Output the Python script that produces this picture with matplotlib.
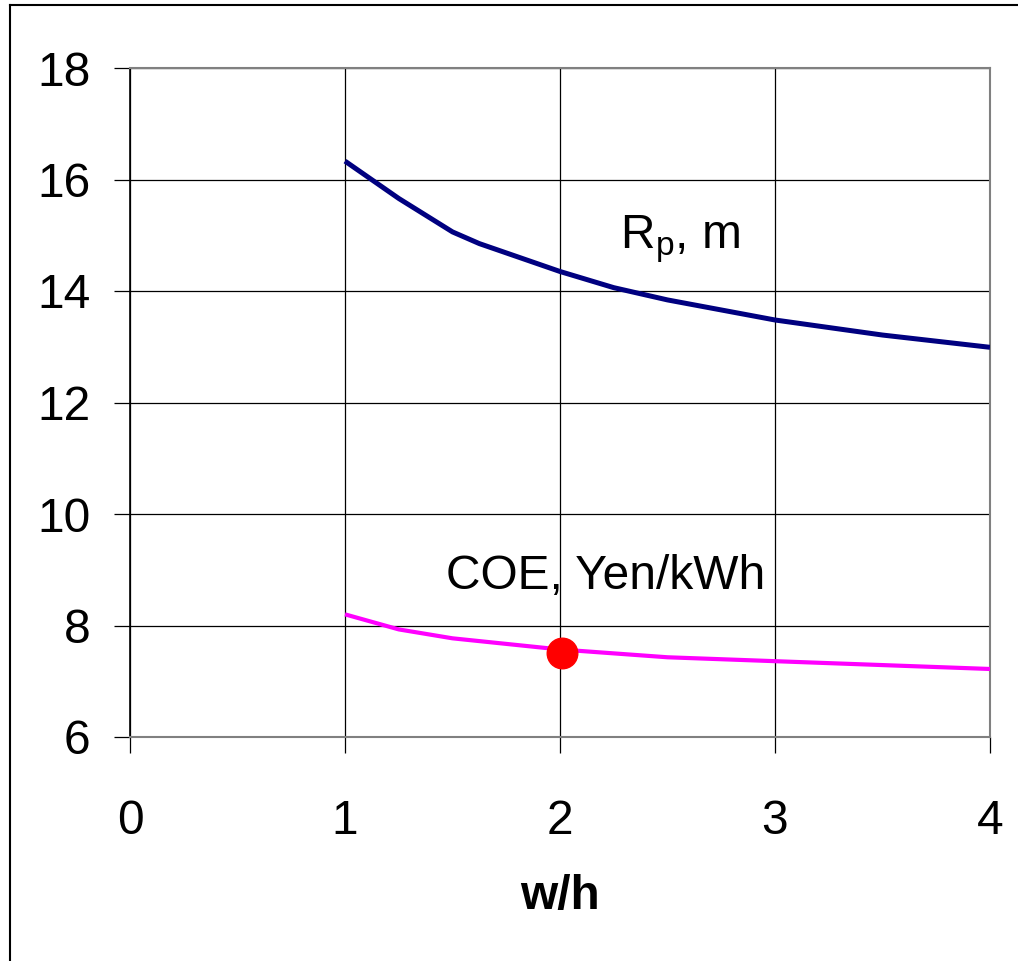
import matplotlib
matplotlib.use("Agg")
import matplotlib.pyplot as plt
from matplotlib.lines import Line2D

plt.rcParams["font.family"] = ["Liberation Sans", "DejaVu Sans"]

# data
w_h = [1.0, 1.25, 1.5, 1.625, 2.0, 2.25, 2.5, 3.0, 3.5, 4.0]
rp = [16.33, 15.66, 15.06, 14.85, 14.35, 14.06, 13.84, 13.48, 13.21, 12.99]
w_h_coe = [1.0, 1.25, 1.5, 2.0, 2.5, 3.0, 3.5, 4.0]
coe = [8.20, 7.93, 7.77, 7.57, 7.43, 7.36, 7.29, 7.22]
opt_x = [2.01]
opt_y = [7.51]

fs = 34.5

fig = plt.figure(figsize=(10.18, 9.61), dpi=100)
ax = fig.add_axes([130 / 1018, 1 - 737 / 961, 860 / 1018, 669 / 961])

ax.plot(w_h, rp, color="#000080", linewidth=3.6, solid_capstyle="butt", zorder=3)
ax.plot(w_h_coe, coe, color="#ff00ff", linewidth=3.0, solid_capstyle="butt", zorder=3)
ax.plot(opt_x, opt_y, "o", color="#ff0000", markersize=22, zorder=4)

ax.set_xlim(0, 4)
ax.set_ylim(6, 18)
ax.set_xticks([0, 1, 2, 3, 4])
ax.set_yticks([6, 8, 10, 12, 14, 16, 18])
ax.grid(True, color="black", linewidth=0.9)
ax.tick_params(axis="both", labelsize=fs, length=11.5, width=0.9, direction="out")
ax.tick_params(axis="x", pad=33)
ax.tick_params(axis="y", pad=17)

for s in ["top", "right", "bottom"]:
    ax.spines[s].set_color("#808080")
    ax.spines[s].set_linewidth(1.5)
ax.spines["left"].set_linewidth(1.2)

ax.set_xlabel("w/h", fontsize=fs, fontweight="bold", labelpad=22)

ax.text(2.56, 14.77, r"R$_\mathregular{p}$, m", fontsize=fs, ha="center", va="baseline")
ax.text(2.21, 8.65, "COE, Yen/kWh", fontsize=fs, ha="center", va="baseline")

# frame around the chart
fig.add_artist(Line2D([10 / 1018, 10 / 1018], [0, 1 - 5 / 961], transform=fig.transFigure,
                      color="black", linewidth=1.5))
fig.add_artist(Line2D([10 / 1018, 1], [1 - 5 / 961, 1 - 5 / 961], transform=fig.transFigure,
                      color="black", linewidth=1.5))

fig.savefig("out.png", dpi=100)
